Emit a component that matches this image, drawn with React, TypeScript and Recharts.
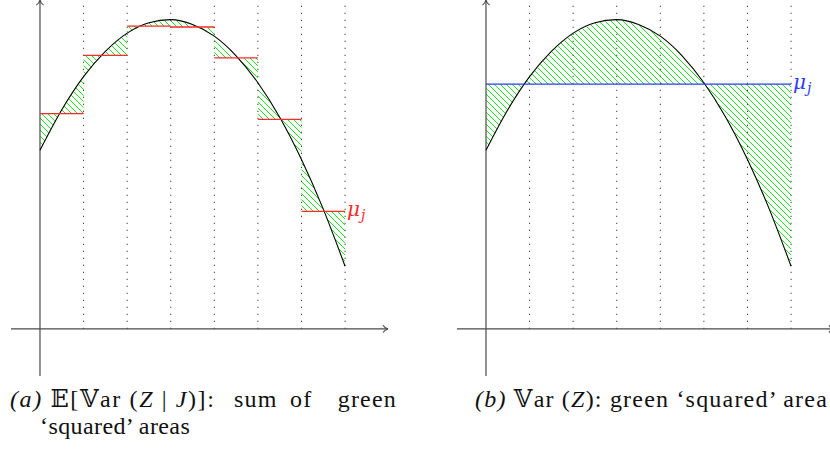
import { ComposedChart, Line, Area, XAxis, YAxis, ReferenceLine, Label } from "recharts";

// curve every half unit
const curveX = [0, 0.5, 1, 1.5, 2, 2.5, 3, 3.5, 4, 4.5, 5, 5.5, 6, 6.5, 7];
const curveY = [4.1, 5.03, 5.79, 6.37, 6.79, 7.03, 7.1, 6.99, 6.72, 6.27, 5.65, 4.86, 3.89, 2.75, 1.44];

// bins and their means (left panel)
const binEdges = [0, 1, 2, 3, 4, 5, 6, 7];
const binMeans = [4.94, 6.28, 6.95, 6.93, 6.22, 4.81, 2.7];

// overall mean (right panel)
const overallMean = 5.62;

const gridX = [1, 2, 3, 4, 5, 6, 7];

const X_DOMAIN = [-0.665, 7.985];
const Y_DOMAIN = [-1.08, 7.55];

const curveData = curveX.map((x, i) => ({ x, y: curveY[i] }));

const leftHatch = binMeans.flatMap((m, j) =>
  curveX
    .map((x, i) => ({ x, range: [m, curveY[i]] }))
    .filter((p) => p.x >= binEdges[j] && p.x <= binEdges[j + 1])
);

const rightHatch = curveX.map((x, i) => ({ x, range: [overallMean, curveY[i]] }));

const AXIS_COLOR = "#4a4a4a";

const Arrow = (props: any) => {
  const { x1, y1, x2, y2 } = props;
  const ang = (Math.atan2(y2 - y1, x2 - x1) * 180) / Math.PI;
  return (
    <g>
      <line x1={x1} y1={y1} x2={x2} y2={y2} stroke={AXIS_COLOR} strokeWidth={1.2} />
      <path
        d="M -5 -3.6 C -3.6 -1.2 -1.2 -0.3 0 0 C -1.2 0.3 -3.6 1.2 -5 3.6"
        transform={`translate(${x2},${y2}) rotate(${ang})`}
        fill="none"
        stroke={AXIS_COLOR}
        strokeWidth={1.1}
      />
    </g>
  );
};

const MuLabel = (color: string) => (props: any) => {
  const vb = props.viewBox;
  return (
    <text
      x={vb.x + vb.width + 2}
      y={vb.y + 5}
      fill={color}
      fontFamily="'DejaVu Serif', serif"
      fontStyle="italic"
      fontSize={20}
    >
      μ
      <tspan dx={1} dy={4} fontSize={14}>
        j
      </tspan>
    </text>
  );
};

const Panel = ({ id, hatch, means }: { id: string; hatch: any[]; means: "bins" | "all" }) => (
  <ComposedChart
    width={415}
    height={380}
    margin={{ top: 0, right: 27, bottom: 4, left: 11 }}
  >
    <defs>
      <pattern id={id} patternUnits="userSpaceOnUse" width={6} height={6}>
        <path
          d="M -1 -1 L 7 7 M -1 5 L 1 7 M 5 -1 L 7 1"
          stroke="#00e600"
          strokeWidth={0.9}
        />
      </pattern>
    </defs>
    <XAxis type="number" dataKey="x" domain={X_DOMAIN} hide allowDataOverflow />
    <YAxis type="number" domain={Y_DOMAIN} hide allowDataOverflow />
    {gridX.map((gx) => (
      <ReferenceLine
        key={gx}
        segment={[
          { x: gx, y: 0 },
          { x: gx, y: Y_DOMAIN[1] },
        ]}
        stroke="#333"
        strokeWidth={1}
        strokeDasharray="1.2 5.8"
      />
    ))}
    <Area
      data={hatch}
      dataKey="range"
      type="linear"
      stroke="none"
      fill={`url(#${id})`}
      fillOpacity={1}
      dot={false}
      activeDot={false}
      isAnimationActive={false}
    />
    <ReferenceLine
      segment={[
        { x: X_DOMAIN[0], y: 0 },
        { x: X_DOMAIN[1], y: 0 },
      ]}
      shape={Arrow}
    />
    <ReferenceLine
      segment={[
        { x: 0, y: Y_DOMAIN[0] },
        { x: 0, y: Y_DOMAIN[1] },
      ]}
      shape={Arrow}
    />
    <Line
      data={curveData}
      dataKey="y"
      type="monotone"
      stroke="#000"
      strokeWidth={1.1}
      dot={false}
      activeDot={false}
      isAnimationActive={false}
    />
    {means === "bins" &&
      binMeans.map((m, j) => (
        <ReferenceLine
          key={j}
          segment={[
            { x: binEdges[j], y: m },
            { x: binEdges[j + 1], y: m },
          ]}
          stroke="#ff2a2a"
          strokeWidth={1.3}
        >
          {j === binMeans.length - 1 && <Label content={MuLabel("#ff2a2a")} />}
        </ReferenceLine>
      ))}
    {means === "all" && (
      <ReferenceLine
        segment={[
          { x: 0, y: overallMean },
          { x: 7, y: overallMean },
        ]}
        stroke="#2a3cff"
        strokeWidth={1.3}
      >
        <Label content={MuLabel("#2a3cff")} />
      </ReferenceLine>
    )}
  </ComposedChart>
);

const capFont = "'Liberation Serif', 'DejaVu Serif', serif";

const Cap = ({
  left,
  right,
  top,
  spacing = 1.2,
  children,
}: {
  left?: number;
  right?: number;
  top: number;
  spacing?: number;
  children: any;
}) => (
  <div
    style={{
      position: "absolute",
      left,
      right,
      top,
      fontFamily: capFont,
      fontSize: 24,
      letterSpacing: spacing,
      lineHeight: "26px",
      whiteSpace: "nowrap",
      color: "#111",
    }}
  >
    {children}
  </div>
);

export default function App() {
  return (
    <div
      style={{
        position: "absolute",
        left: 0,
        top: 0,
        width: 830,
        height: 450,
        overflow: "hidden",
        background: "#fff",
      }}
    >
      <div style={{ position: "absolute", left: 0, top: 0 }}>
        <Panel id="hatchA" hatch={leftHatch} means="bins" />
      </div>
      <div style={{ position: "absolute", left: 446, top: 0 }}>
        <Panel id="hatchB" hatch={rightHatch} means="all" />
      </div>
      <Cap left={10} top={386} spacing={1.6}>
        <i>(a)</i> 𝔼[𝕍ar (<i>Z</i> | <i>J</i>)]:
      </Cap>
      <Cap left={234} top={386}>sum</Cap>
      <Cap left={290} top={386}>of</Cap>
      <Cap right={433} top={386}>green</Cap>
      <Cap left={40} top={413} spacing={0.4}>‘squared’ areas</Cap>
      <Cap right={2} top={386}>
        <i>(b)</i> 𝕍ar (<i>Z</i>): green ‘squared’ area
      </Cap>
    </div>
  );
}
